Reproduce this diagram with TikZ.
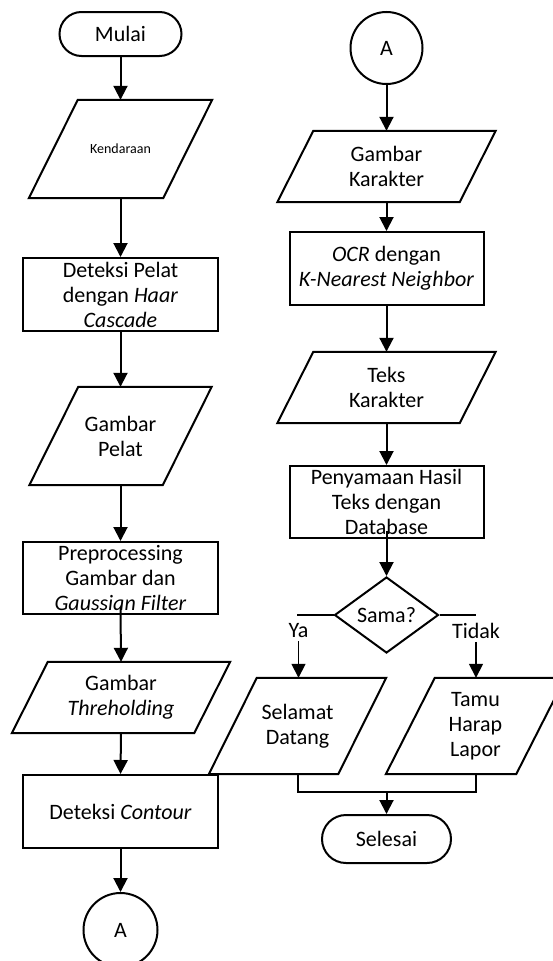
\documentclass[tikz,border=0pt]{standalone}
\usepackage{fontspec}
\setmainfont{Carlito}
\usetikzlibrary{arrows.meta,calc,shapes.geometric}

% parallelogram (input/output) drawn round a named node; #2 = half of the slant
\newcommand{\iooutline}[2]{%
  \draw[ln] ($(#1.south west)+(-#2,0)$) -- ($(#1.north west)+(#2,0)$)
    -- ($(#1.north east)+(#2,0)$) -- ($(#1.south east)+(-#2,0)$) -- cycle;}

\begin{document}
\begin{tikzpicture}[x=1pt,y=-1pt,
  every node/.style={font=\fontsize{22}{25}\selectfont, align=center, inner sep=0pt},
  ln/.style={line width=2pt},
  thin ln/.style={line width=1.5pt},
  arr/.style={ln, -{Triangle[length=14pt,width=14pt]}},
  thin arr/.style={thin ln, -{Triangle[length=14pt,width=14pt]}},
  term/.style={draw, ln, rectangle, rounded corners=22pt, minimum width=122pt, minimum height=44pt},
  proc/.style={draw, ln, rectangle, minimum width=195pt, minimum height=73pt},
  iob/.style 2 args={minimum width=#1, minimum height=#2},
  conn/.style={draw, ln, circle, minimum size=73pt},
  dec/.style={draw, ln, diamond, minimum width=104pt, minimum height=76pt},
  lbl/.style={inner sep=3pt}
]
\useasboundingbox (0,0) rectangle (553,961);

% ---- left column ----
\node[term] (mulai) at (120.5,34) {Mulai};
\node[iob={134pt}{98pt}, font=\fontsize{14}{17}\selectfont] (kend) at (120.5,149) {Kendaraan};
\iooutline{kend}{24.5}
\node[proc] (pelat) at (120.5,294.5) {Deteksi Pelat\\dengan \textit{Haar}\\\textit{Cascade}};
\node[iob={133pt}{98pt}] (gpelat) at (120.5,436) {Gambar\\Pelat};
\iooutline{gpelat}{24.5}
\node[proc, minimum height=72pt] (pre) at (120.5,578) {Preprocessing\\Gambar dan\\\textit{Gaussian Filter}};
\node[iob={182pt}{71pt}] (thr) at (121,697.5) {Gambar\\\textit{Threholding}};
\iooutline{thr}{18}
\node[proc] (cont) at (120.5,811.5) {Deteksi \textit{Contour}};
\node[conn, minimum size=74pt] (a1) at (120.5,930) {A};

\draw[arr] (mulai) -- (kend.north);
\draw[arr] (kend.south) -- (pelat.north);
\draw[arr] (pelat) -- (gpelat.north);
\draw[arr] (gpelat.south) -- (pre.north);
\draw[arr] ($(pre.south)+(0,-8)$) -- (thr.north);
\draw[arr] (thr.south) -- (cont.north);
\draw[arr] (cont) -- (a1);

% ---- right column ----
\node[conn, minimum size=72pt] (a2) at (386.5,48) {A};
\node[iob={182pt}{71pt}] (gkar) at (386.5,166.5) {Gambar\\Karakter};
\iooutline{gkar}{18}
\node[proc, minimum width=194pt] (ocr) at (386.5,268.5) {\textit{OCR} dengan\\\textit{K-Nearest Neighbor}};
\node[iob={182pt}{71pt}] (teks) at (386.5,387.5) {Teks\\Karakter};
\iooutline{teks}{18}
\node[proc, minimum width=194pt, minimum height=72pt] (sama) at (386.5,502) {Penyamaan Hasil\\Teks dengan\\Database};
\node[dec] (cek) at (386.5,615) {Sama?};

\coordinate (yaend) at (297,615);
\coordinate (tdend) at (476,615);
\node[lbl] (ya) at (298.5,631) {Ya};
\node[lbl] (tidak) at (476,631) {Tidak};

\node[iob={129pt}{96pt}] (sel) at (297.5,726) {Selamat\\Datang};
\iooutline{sel}{24}
\node[iob={130pt}{96pt}] (tamu) at (475.5,726) {Tamu\\Harap\\Lapor};
\iooutline{tamu}{24.5}
\node[term, minimum width=129pt, minimum height=48pt, rounded corners=24pt] (selesai) at (386.5,839) {Selesai};
\coordinate (mg) at (386.5,792);

\draw[arr] (a2) -- (gkar.north);
\draw[arr] (gkar.south) -- (ocr.north);
\draw[arr] (ocr) -- (teks.north);
\draw[arr] (teks.south) -- (sama.north);
\draw[arr] ($(sama.south)+(0,-8)$) -- (cek.north);
\draw[ln] (cek.west) -- (yaend);
\draw[ln] (cek.east) -- (tdend);
\draw[thin arr] (ya.south) -- (ya.south |- sel.north);
\draw[thin arr] (tidak.south) -- (tidak.south |- tamu.north);
\draw[ln] (sel.south) |- (mg) -| (tamu.south);
\draw[arr] (mg) -- (selesai.north);
\end{tikzpicture}
\end{document}
